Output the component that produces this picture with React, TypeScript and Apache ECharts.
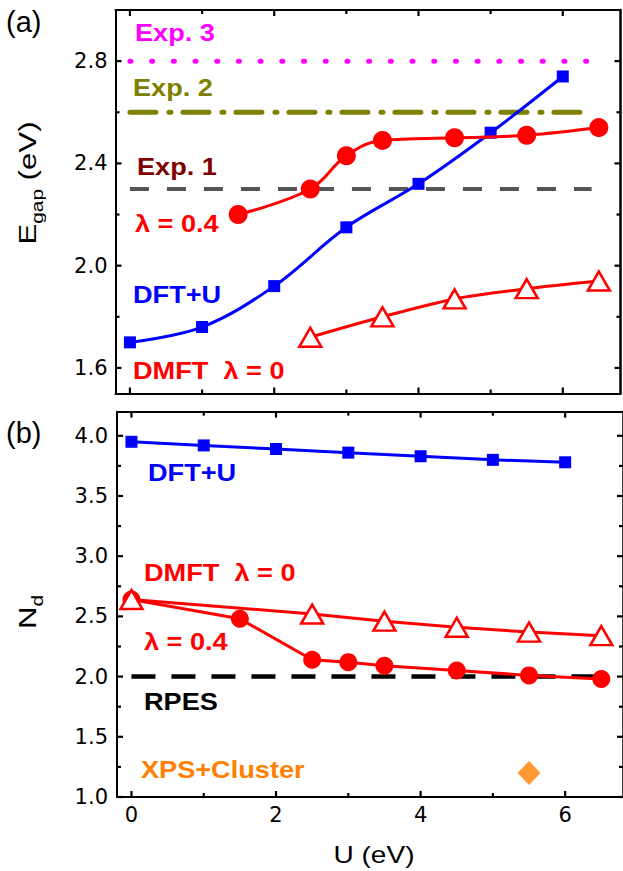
import React, { useEffect, useRef } from "react";
import * as echarts from "echarts";

// ---------- data ----------
// panel (a): band gap vs U
const uDftGap = [0, 1, 2, 3, 4, 5, 6];
const gapDft = [1.7, 1.76, 1.92, 2.15, 2.32, 2.52, 2.74];
const uL04Gap = [1.5, 2.5, 3, 3.5, 4.5, 5.5, 6.5];
const gapL04 = [2.2, 2.3, 2.43, 2.49, 2.5, 2.51, 2.54];
const uL0Gap = [2.5, 3.5, 4.5, 5.5, 6.5];
const gapL0 = [1.72, 1.8, 1.87, 1.91, 1.94];
const expU = [0, 6.4];
const exp1 = 2.3;
const exp2 = 2.6;
const exp3 = 2.8;

// panel (b): d occupancy vs U
const uDftNd = [0, 1, 2, 3, 4, 5, 6];
const ndDft = [3.95, 3.92, 3.89, 3.86, 3.83, 3.8, 3.78];
const uL04Nd = [0, 1.5, 2.5, 3, 3.5, 4.5, 5.5, 6.5];
const ndL04 = [2.64, 2.48, 2.14, 2.12, 2.09, 2.05, 2.01, 1.98];
const uL0Nd = [0, 2.5, 3.5, 4.5, 5.5, 6.5];
const ndL0 = [2.64, 2.52, 2.46, 2.41, 2.37, 2.34];
const rpesU = [0, 6.45];
const rpes = 2.0;
const xpsU = [5.5];
const xpsNd = [1.2];

// axis ranges and ticks
const uRange = [-0.2, 6.8];
const gapRange = [1.5, 3.0];
const ndRange = [1.0, 4.2];
const xMajor = [0, 2, 4, 6];
const xMinor = [1, 3, 5];
const gapMajor = [1.6, 2.0, 2.4, 2.8];
const gapMinor = [1.8, 2.2, 2.6];
const ndMajor = [1.0, 1.5, 2.0, 2.5, 3.0, 3.5, 4.0];
const ndMinor = [1.25, 1.75, 2.25, 2.75, 3.25, 3.75];

const zip = (xs: number[], ys: number[]) => xs.map((x, i) => [x, ys[i]]);
const flat = (xs: number[], y: number) => xs.map((x) => [x, y]);

const BLACK = "#000";
const TICKFONT = "DejaVu Sans";
const LABFONT = "Liberation Sans";

const axLine = { show: true, onZero: false, lineStyle: { color: BLACK, width: 2 } };

function xAxes(grid: number, showLabels: boolean) {
  const base = { type: "value", gridIndex: grid, min: uRange[0], max: uRange[1], splitLine: { show: false } };
  return [
    {
      ...base,
      position: "bottom",
      axisLine: axLine,
      axisTick: { show: false },
      axisLabel: {
        show: showLabels,
        customValues: xMajor,
        margin: 7,
        color: BLACK,
        fontSize: 21,
        fontFamily: TICKFONT,
        formatter: (v: number) => String(v),
      },
    },
    { ...base, position: "top", axisLine: axLine, axisTick: { show: false }, axisLabel: { show: false } },
  ];
}

function yAxes(grid: number, range: number[], labels: number[], margin: number) {
  const base = { type: "value", gridIndex: grid, min: range[0], max: range[1], splitLine: { show: false } };
  return [
    {
      ...base,
      position: "left",
      axisLine: axLine,
      axisTick: { show: false },
      axisLabel: {
        show: true,
        customValues: labels,
        margin,
        color: BLACK,
        fontSize: 21,
        fontFamily: TICKFONT,
        formatter: (v: number) => v.toFixed(1),
      },
    },
    {
      ...base,
      position: "right",
      axisLine: { show: true, onZero: false, lineStyle: { color: BLACK, width: 2.5 } },
      axisTick: { show: false },
      axisLabel: { show: false },
    },
  ];
}

function label(text: string, x: number, y: number, fill: string) {
  return {
    type: "text",
    x,
    y,
    scaleX: 1.18,
    style: {
      text,
      fill,
      fontSize: 23,
      fontWeight: "bold",
      fontFamily: LABFONT,
      align: "left",
      verticalAlign: "middle",
    },
  };
}

export default function App() {
  const ref = useRef<HTMLDivElement>(null);
  useEffect(() => {
    if (!ref.current) return;
    const chart = echarts.init(ref.current, null, { renderer: "svg" });

    const red = "#FF0000";
    const blue = "#0000FF";

    const option: any = {
      animation: false,
      grid: [
        { left: 115.5, top: 10, width: 505, height: 383.5 },
        { left: 117, top: 411.7, width: 507, height: 385.3 },
      ],
      xAxis: [...xAxes(0, false), ...xAxes(1, true)],
      yAxis: [...yAxes(0, gapRange, gapMajor, 8), ...yAxes(1, ndRange, ndMajor, 9)],
      series: [
        // ---- panel (a)
        {
          type: "line", xAxisIndex: 0, yAxisIndex: 0, symbol: "none", z: 1,
          data: flat(expU, exp3),
          lineStyle: { color: "#FF00FF", width: 5, type: [1, 20.7], cap: "round" },
        },
        {
          type: "line", xAxisIndex: 0, yAxisIndex: 0, symbol: "none", z: 1,
          data: flat(expU, exp2),
          lineStyle: { color: "#808000", width: 5, type: [26, 13, 2, 12], cap: "round" },
        },
        {
          type: "line", xAxisIndex: 0, yAxisIndex: 0, symbol: "none", z: 1,
          data: flat(expU, exp1),
          lineStyle: { color: "#555555", width: 4, type: [19, 18] },
        },
        {
          type: "line", xAxisIndex: 0, yAxisIndex: 0, z: 2,
          data: zip(uDftGap, gapDft), smooth: 0.35,
          symbol: "rect", symbolSize: 12,
          lineStyle: { color: blue, width: 3 }, itemStyle: { color: blue },
        },
        {
          type: "line", xAxisIndex: 0, yAxisIndex: 0, z: 3,
          data: zip(uL04Gap, gapL04), smooth: 0.4,
          symbol: "circle", symbolSize: 19,
          lineStyle: { color: red, width: 3 }, itemStyle: { color: red },
        },
        {
          type: "line", xAxisIndex: 0, yAxisIndex: 0, z: 3,
          data: zip(uL0Gap, gapL0), smooth: 0.3,
          symbol: "triangle", symbolSize: [22, 19],
          lineStyle: { color: red, width: 3 },
          itemStyle: { color: "#fff", borderColor: red, borderWidth: 2.5 },
        },
        // ---- panel (b)
        {
          type: "line", xAxisIndex: 2, yAxisIndex: 2, symbol: "none", z: 1,
          data: flat(rpesU, rpes),
          lineStyle: { color: "#000", width: 4.5, type: [24, 16] },
        },
        {
          type: "line", xAxisIndex: 2, yAxisIndex: 2, z: 2,
          data: zip(uDftNd, ndDft),
          symbol: "rect", symbolSize: 12,
          lineStyle: { color: blue, width: 3 }, itemStyle: { color: blue },
        },
        {
          type: "line", xAxisIndex: 2, yAxisIndex: 2, z: 3,
          data: zip(uL04Nd, ndL04),
          symbol: "circle", symbolSize: 18,
          lineStyle: { color: red, width: 3 }, itemStyle: { color: red },
        },
        {
          type: "line", xAxisIndex: 2, yAxisIndex: 2, z: 4,
          data: zip(uL0Nd, ndL0),
          symbol: "triangle", symbolSize: [22, 19],
          lineStyle: { color: red, width: 3 },
          itemStyle: { color: "#fff", borderColor: red, borderWidth: 2.5 },
        },
        {
          type: "scatter", xAxisIndex: 2, yAxisIndex: 2, z: 4,
          data: zip(xpsU, xpsNd),
          symbol: "diamond", symbolSize: [23, 24],
          itemStyle: { color: "#FF8000" },
        },
      ],
    };
    chart.setOption(option);

    // ---- inward ticks, placed through the axes' own scales
    const px = (xIdx: number, v: number) => chart.convertToPixel({ xAxisIndex: xIdx } as any, v) as number;
    const py = (yIdx: number, v: number) => chart.convertToPixel({ yAxisIndex: yIdx } as any, v) as number;
    const seg = (x1: number, y1: number, x2: number, y2: number) => ({
      type: "line",
      shape: { x1, y1, x2, y2 },
      style: { stroke: BLACK, lineWidth: 2.2 },
    });
    const frameTicks = (xIdx: number, yIdx: number, yRange: number[], yMaj: number[], yMin: number[]) => {
      const out: any[] = [];
      const left = px(xIdx, uRange[0]);
      const right = px(xIdx, uRange[1]);
      const bottom = py(yIdx, yRange[0]);
      const top = py(yIdx, yRange[1]);
      xMajor.forEach((v) => {
        const x = px(xIdx, v);
        out.push(seg(x, bottom, x, bottom - 6), seg(x, top, x, top + 6));
      });
      xMinor.forEach((v) => {
        const x = px(xIdx, v);
        out.push(seg(x, bottom, x, bottom - 4), seg(x, top, x, top + 4));
      });
      yMaj.forEach((v) => {
        const y = py(yIdx, v);
        out.push(seg(left, y, left + 6, y), seg(right, y, right - 6, y));
      });
      yMin.forEach((v) => {
        const y = py(yIdx, v);
        out.push(seg(left, y, left + 4, y), seg(right, y, right - 4, y));
      });
      return out;
    };

    const graphics: any[] = [
      ...frameTicks(0, 0, gapRange, gapMajor, gapMinor),
      ...frameTicks(2, 2, ndRange, ndMajor, ndMinor),
      label("Exp. 3", 135, 33, "#FF00FF"),
      label("Exp. 2", 133, 88, "#808000"),
      label("Exp. 1", 137, 167, "#800000"),
      label("λ = 0.4", 135, 224, "#FF0000"),
      label("DFT+U", 133, 295, "#0000FF"),
      label("DMFT  λ = 0", 133, 371, "#FF0000"),
      label("DFT+U", 148, 473, "#0000FF"),
      label("DMFT  λ = 0", 144, 573, "#FF0000"),
      label("λ = 0.4", 144, 642, "#FF0000"),
      label("RPES", 144, 702, "#000000"),
      label("XPS+Cluster", 141, 770, "#FF8000"),
      {
        type: "text", x: 6, y: 22,
        style: { text: "(a)", fontSize: 29, fontFamily: LABFONT, fill: BLACK, align: "left", verticalAlign: "middle" },
      },
      {
        type: "text", x: 6, y: 433,
        style: { text: "(b)", fontSize: 29, fontFamily: LABFONT, fill: BLACK, align: "left", verticalAlign: "middle" },
      },
      {
        type: "text", x: 28, y: 183, rotation: Math.PI / 2, scaleX: 1.3,
        style: {
          text: "{m|E}{s|gap}{m| (eV)}",
          align: "center",
          verticalAlign: "middle",
          fill: BLACK,
          rich: {
            m: { fontSize: 24, fontFamily: LABFONT, lineHeight: 34, verticalAlign: "middle" },
            s: { fontSize: 16, fontFamily: LABFONT, lineHeight: 16, verticalAlign: "bottom" },
          },
        },
      },
      {
        type: "text", x: 28, y: 612, rotation: Math.PI / 2, scaleX: 1.3,
        style: {
          text: "{m|N}{s|d}",
          align: "center",
          verticalAlign: "middle",
          fill: BLACK,
          rich: {
            m: { fontSize: 24, fontFamily: LABFONT, lineHeight: 34, verticalAlign: "middle" },
            s: { fontSize: 16, fontFamily: LABFONT, lineHeight: 16, verticalAlign: "bottom" },
          },
        },
      },
      {
        type: "text", x: 374, y: 855, scaleX: 1.22,
        style: { text: "U (eV)", fontSize: 23, fontFamily: LABFONT, fill: BLACK, align: "center", verticalAlign: "middle" },
      },
    ];
    chart.setOption({ graphic: graphics });
    return () => chart.dispose();
  }, []);
  return (
    <div
      ref={ref}
      style={{ position: "fixed", left: 0, top: 0, width: 623, height: 871, background: "#fff" }}
    />
  );
}
